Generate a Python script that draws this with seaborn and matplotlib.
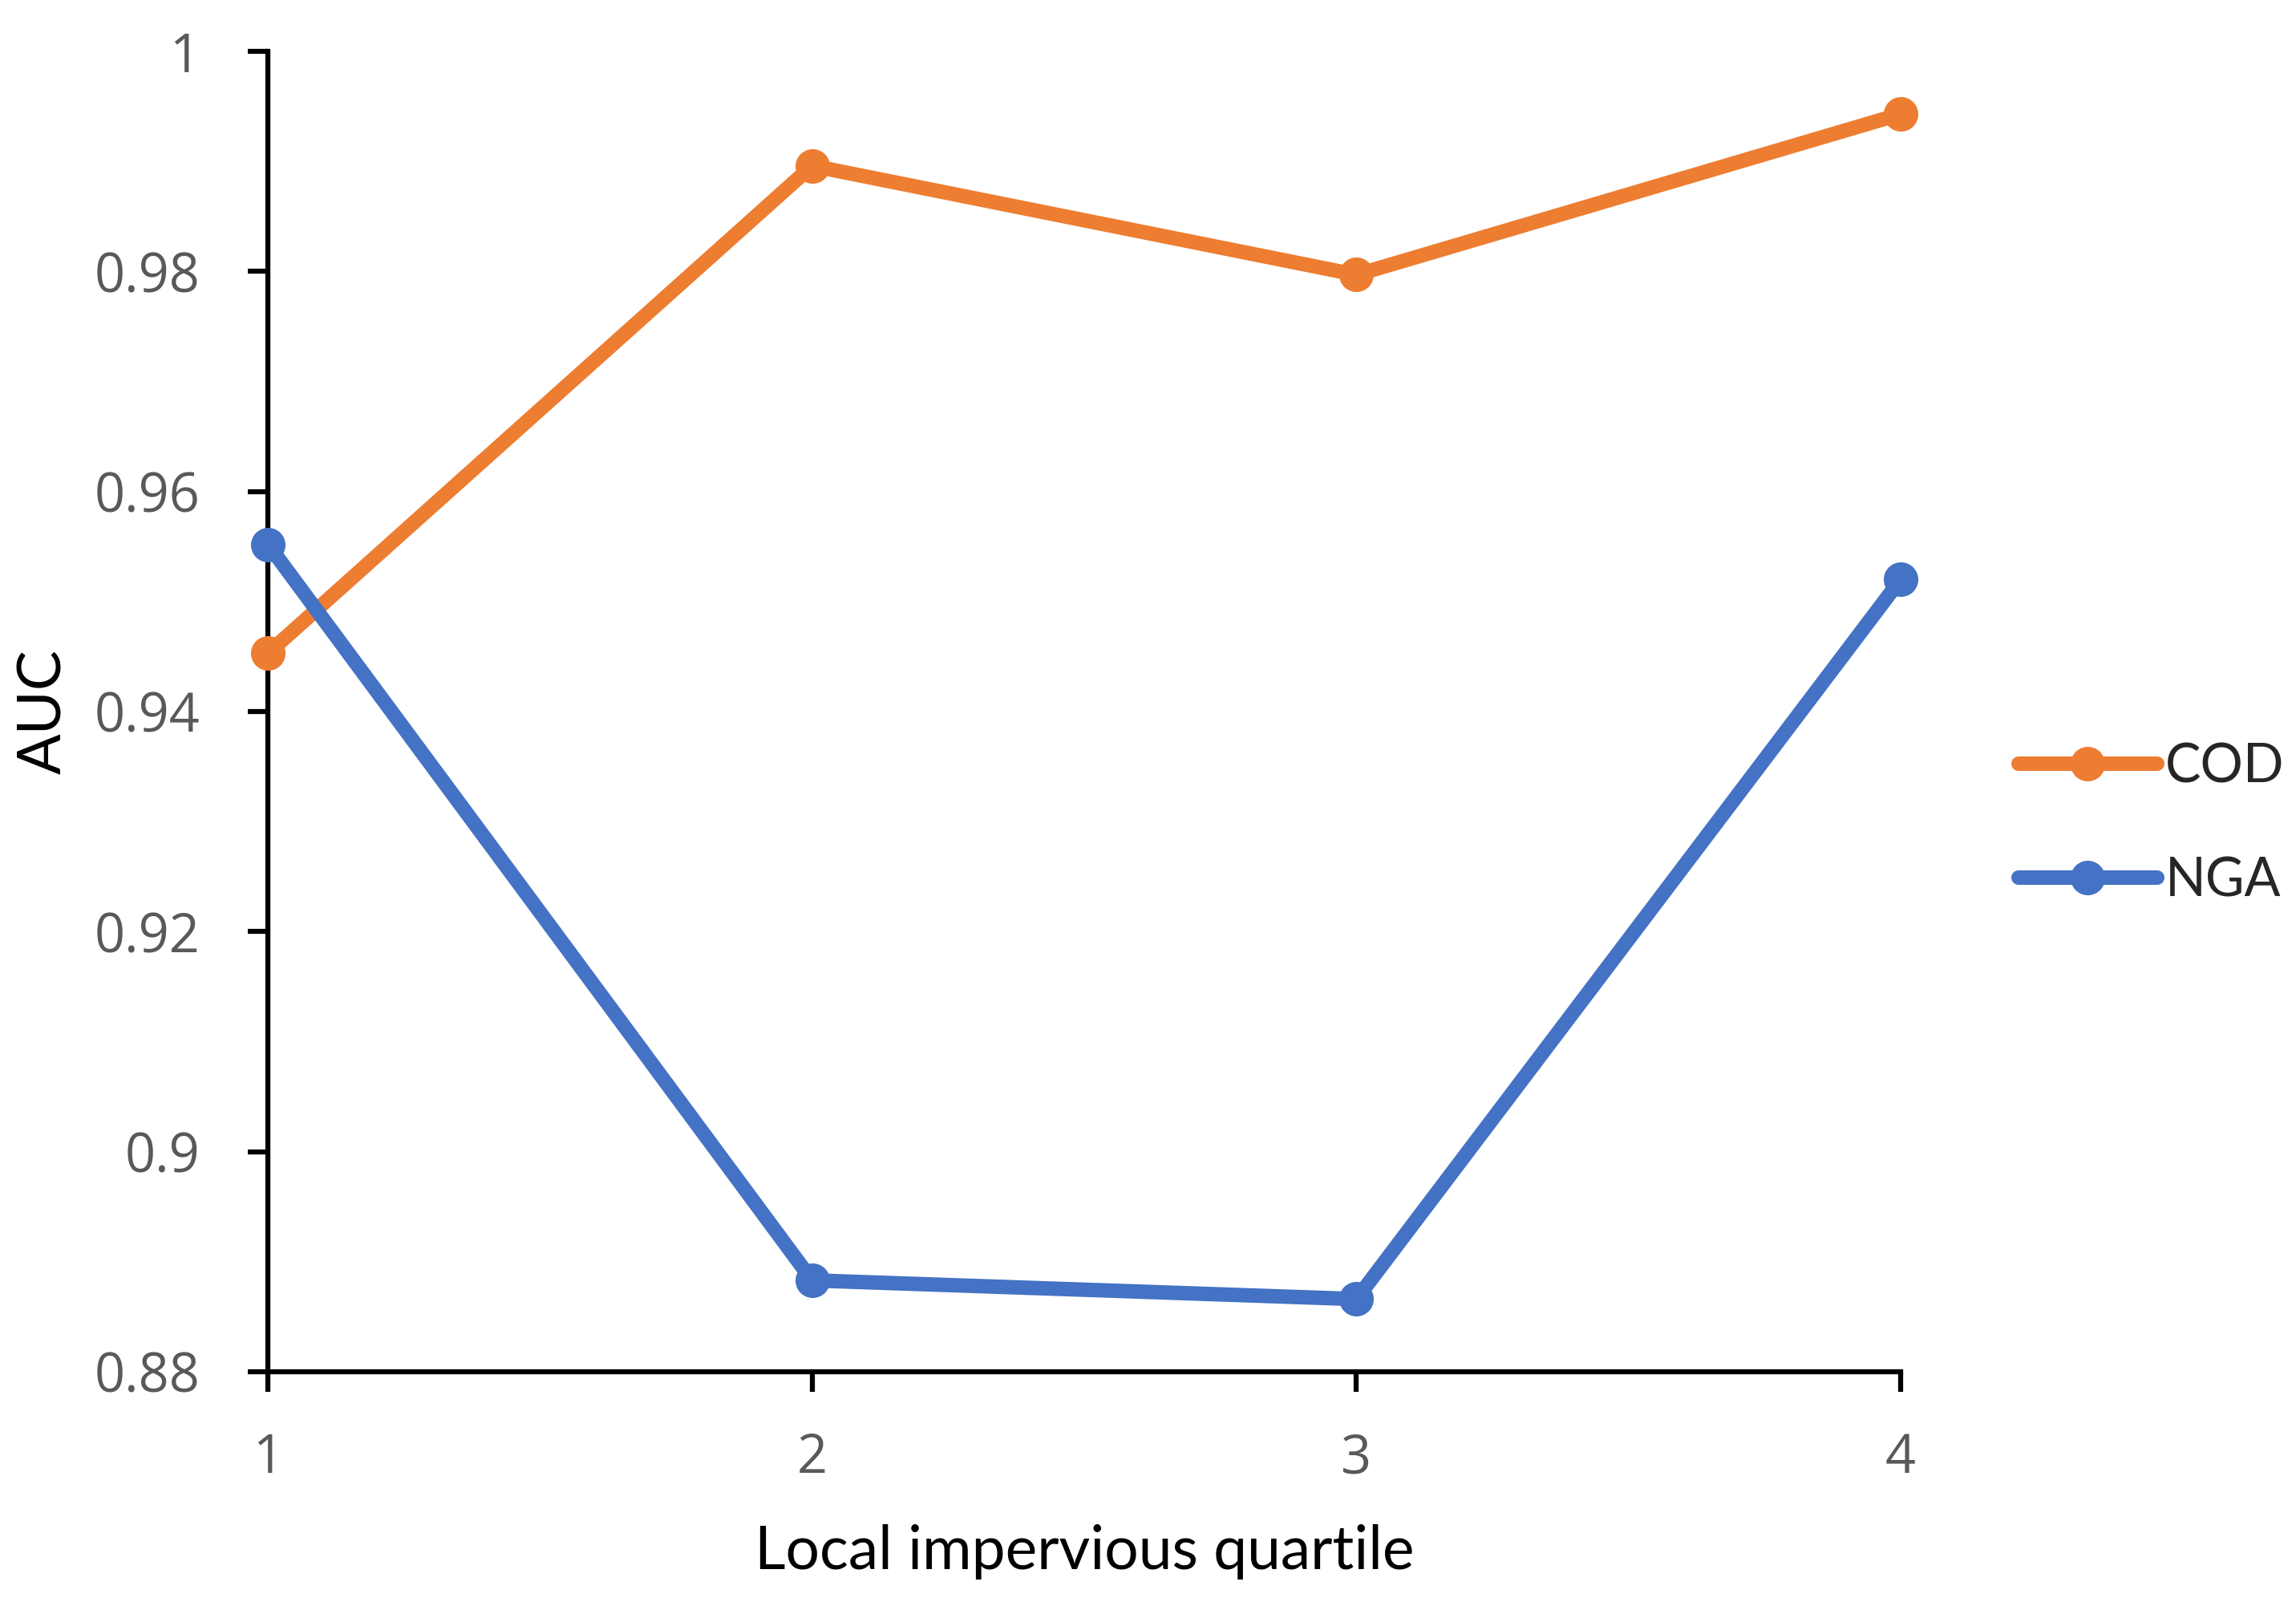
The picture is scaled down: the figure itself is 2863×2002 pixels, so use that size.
import matplotlib
matplotlib.use("Agg")
import matplotlib.pyplot as plt
import seaborn as sns
import pandas as pd

quartiles = [1, 2, 3, 4]
cod_auc = [0.9453, 0.9896, 0.9797, 0.9943]
nga_auc = [0.9552, 0.8883, 0.8866, 0.9520]
series_names = ["COD", "NGA"]
y_ticks = [0.88, 0.9, 0.92, 0.94, 0.96, 0.98, 1]
y_tick_labels = ["0.88", "0.9", "0.92", "0.94", "0.96", "0.98", "1"]

df = pd.DataFrame({
    "quartile": quartiles * 2,
    "AUC": cod_auc + nga_auc,
    "series": [series_names[0]] * 4 + [series_names[1]] * 4,
})

sns.set_theme(style="white")
plt.rcParams["font.family"] = ["Lato", "DejaVu Sans"]
tick_font = ["Open Sans", "DejaVu Sans"]

fig = plt.figure(figsize=(28.63, 20.02), dpi=100)
ax = fig.add_axes([0.1167, 0.1459, 0.8278 - 0.1167, 0.968 - 0.1459])

palette = {"COD": "#ED7D31", "NGA": "#4472C4"}
sns.lineplot(data=df, x="quartile", y="AUC", hue="series", palette=palette,
             marker="o", markersize=31, markeredgewidth=0, linewidth=13,
             ax=ax, clip_on=False, zorder=3)

ax.set_xlim(1, 4)
ax.set_ylim(0.88, 1.0)
ax.set_xticks(quartiles)
ax.set_xticklabels([str(q) for q in quartiles], family=tick_font)
ax.set_yticks(y_ticks)
ax.set_yticklabels(y_tick_labels, family=tick_font)

for s in ["top", "right"]:
    ax.spines[s].set_visible(False)
for s in ["left", "bottom"]:
    ax.spines[s].set_color("black")
    ax.spines[s].set_linewidth(4.5)

ax.tick_params(axis="both", which="major", bottom=True, left=True,
               direction="out", length=18, width=4.5,
               color="black", labelcolor="#595959", labelsize=48)
ax.tick_params(axis="y", pad=43)
ax.tick_params(axis="x", pad=36)

ax.set_xlabel("Local impervious quartile", fontsize=54, color="black", labelpad=34)
ax.set_ylabel("AUC", fontsize=54, color="black", labelpad=20)

leg = ax.legend(loc="center left", bbox_to_anchor=(0.879, 0.487),
                bbox_transform=fig.transFigure, frameon=False,
                fontsize=48, handlelength=2.6, handletextpad=0.15,
                labelspacing=1.2, borderpad=0, borderaxespad=0)
for line in leg.get_lines():
    line.set_linewidth(13)
    line.set_markersize(31)

fig.savefig("out.png", dpi=100, facecolor="white")
